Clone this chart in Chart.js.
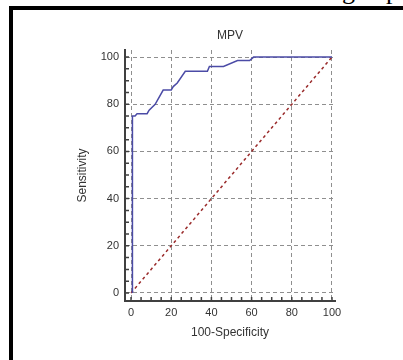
<!DOCTYPE html>
<html>
<head>
<meta charset="utf-8">
<script src="https://cdn.jsdelivr.net/npm/chart.js@4.4.0/dist/chart.umd.min.js"></script>
<style>
  body { margin: 0; background: #fff; overflow: hidden; }
  #wrap { position: relative; width: 403px; height: 360px; }
  #frame { position: absolute; left: 9px; top: 6px; right: -10px; bottom: -10px; border-top: 4px solid #000; border-left: 4px solid #000; }
  .cut { position: absolute; top: -22px; font-family: "Liberation Serif", serif; font-size: 26px; line-height: 26px; color: #000; }
  canvas { position: absolute; left: 0; top: 0; }
</style>
</head>
<body>
<div id="wrap">
  <div id="frame"></div>
  <span class="cut" style="left:342px">g</span>
  <span class="cut" style="left:386px">p</span>
  <canvas id="rocChart" width="403" height="360"></canvas>
</div>
<script>
// ROC curve
const fprVals = [0.7, 0.7, 2, 3, 4, 8, 9, 12, 16, 20, 21, 23, 27, 38, 39, 46, 53, 59, 61, 100];
const tprVals = [0, 75, 75, 76, 76, 76, 77.5, 80, 86, 86, 87.5, 89, 94, 94, 96, 96, 98.5, 98.5, 100, 100];
// reference diagonal
const refX = [0, 100];
const refY = [0, 100];
// tick labels
const xTicks = [0, 20, 40, 60, 80, 100];
const yTicks = [0, 20, 40, 60, 80, 100];

const toPoints = (xs, ys) => xs.map((x, i) => ({ x: x, y: ys[i] }));

// small ticks pointing into the plot every 5 units
const innerTicks = {
    id: 'innerTicks',
    afterDatasetsDraw(chart) {
        const ctx = chart.ctx;
        const xs = chart.scales.x, ys = chart.scales.y;
        const area = chart.chartArea;
        ctx.save();
        ctx.strokeStyle = '#404040';
        ctx.lineWidth = 1.5;
        ctx.beginPath();
        for (let v = 0; v <= 100; v += 5) {
            const px = xs.getPixelForValue(v);
            ctx.moveTo(px, area.bottom);
            ctx.lineTo(px, area.bottom - 4);
            const py = ys.getPixelForValue(v);
            ctx.moveTo(area.left, py);
            ctx.lineTo(area.left + 4, py);
        }
        ctx.stroke();
        ctx.restore();
    }
};

const font = 'Liberation Sans, Arial';

const ctx = document.getElementById('rocChart').getContext('2d');
const rocChart = new Chart(ctx, {
    type: 'scatter',
    data: {
        datasets: [{
            data: toPoints(fprVals, tprVals),
            showLine: true,
            borderColor: '#4b4ba6',
            borderWidth: 1.5,
            pointRadius: 0,
            tension: 0
        }, {
            data: toPoints(refX, refY),
            showLine: true,
            borderColor: '#9a2b2b',
            borderWidth: 1.5,
            borderDash: [3, 3],
            pointRadius: 0
        }]
    },
    options: {
        responsive: false,
        animation: false,
        layout: { padding: { left: 57, right: 0, top: 0, bottom: 0 } },
        plugins: {
            legend: { display: false },
            tooltip: { enabled: false },
            title: {
                display: true,
                text: 'MPV',
                color: '#333',
                font: { family: font, size: 12, weight: 'normal' },
                padding: { top: 28, bottom: 7.6 }
            }
        },
        scales: {
            x: {
                type: 'linear',
                min: -3,
                max: 101.5,
                afterBuildTicks: scale => { scale.ticks = xTicks.map(v => ({ value: v })); },
                afterFit: scale => { scale.height = 59; },
                grid: { color: '#8f8f8f', lineWidth: 1, drawTicks: false },
                border: { display: true, color: '#404040', width: 2, dash: [4, 3] },
                ticks: {
                    color: '#333',
                    padding: 5,
                    font: { family: font, size: 11 }
                },
                title: {
                    display: true,
                    text: '100-Specificity',
                    color: '#333',
                    font: { family: font, size: 12 },
                    padding: { top: 0, bottom: 19.8 }
                }
            },
            y: {
                type: 'linear',
                min: -3.4,
                max: 103,
                afterBuildTicks: scale => { scale.ticks = yTicks.map(v => ({ value: v })); },
                afterFit: scale => { scale.width = 68; },
                grid: { color: '#8f8f8f', lineWidth: 1, drawTicks: false },
                border: { display: true, color: '#404040', width: 2, dash: [4, 3] },
                ticks: {
                    color: '#333',
                    padding: 6,
                    font: { family: font, size: 11 }
                },
                title: {
                    display: true,
                    text: 'Sensitivity',
                    color: '#333',
                    font: { family: font, size: 12 },
                    padding: { top: 18.8, bottom: 0 }
                }
            },
            // empty axis on the right, only keeps the blank margin
            yRight: {
                type: 'linear',
                position: 'right',
                min: 0,
                max: 100,
                afterFit: scale => { scale.width = 68; },
                grid: { drawOnChartArea: false, drawTicks: false },
                border: { display: false },
                ticks: { display: false }
            }
        }
    },
    plugins: [innerTicks]
});
</script>
</body>
</html>
